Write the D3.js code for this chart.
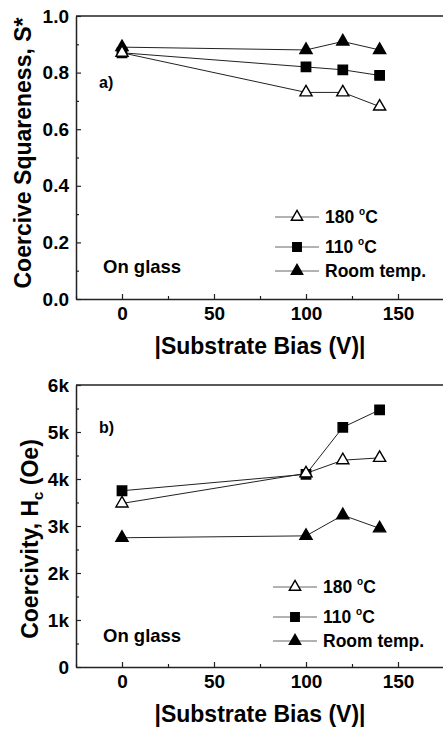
<!DOCTYPE html>
<html>
<head>
<meta charset="utf-8">
<script src="https://cdn.jsdelivr.net/npm/d3@7"></script>
<style>
  html, body { margin: 0; padding: 0; background: #fff; }
  svg { display: block; }
  text { font-family: "Liberation Sans", Arial, Helvetica, sans-serif; font-weight: bold; fill: #000; }
</style>
</head>
<body>
<svg id="chart" width="443" height="729"></svg>
<script>
// ---------- data ----------
const biasValues = [0, 100, 120, 140];
const seriesNames = ["180", "110", "Room temp."];

const squareness180 = [0.87, 0.73, 0.73, 0.68];
const squareness110 = [0.87, 0.82, 0.81, 0.79];
const squarenessRoom = [0.89, 0.88, 0.91, 0.88];

const coercivity180 = [3480, 4120, 4400, 4450];
const coercivity110 = [3750, 4100, 5100, 5470];
const coercivityRoom = [2750, 2790, 3230, 2950];

const xTicks = [0, 50, 100, 150];
const xMinorTicks = [-25, 25, 75, 125, 175];
const squarenessTicks = [0, 0.2, 0.4, 0.6, 0.8, 1.0];
const squarenessTickLabels = ["0.0", "0.2", "0.4", "0.6", "0.8", "1.0"];
const squarenessMinor = [0.1, 0.3, 0.5, 0.7, 0.9];
const coercivityTicks = [0, 1000, 2000, 3000, 4000, 5000, 6000];
const coercivityTickLabels = ["0", "1k", "2k", "3k", "4k", "5k", "6k"];
const coercivityMinor = [500, 1500, 2500, 3500, 4500, 5500];

// ---------- layout ----------
const svg = d3.select("#chart");
const left = 76, right = 444;
const x = d3.scaleLinear().domain([-25, 175]).range([left, right]);

const markerStyles = [
  { type: d3.symbolTriangle, size: 64, fill: "#fff" },   // 180 C open triangle
  { type: d3.symbolSquare, size: 88, fill: "#000" },     // 110 C filled square
  { type: d3.symbolTriangle, size: 64, fill: "#000" }    // Room temp filled triangle
];

function drawPanel(p) {
  const y = d3.scaleLinear().domain(p.domain).range([p.bottom, p.top]);
  const g = svg.append("g");

  // top border
  g.append("line").attr("x1", left).attr("x2", right)
    .attr("y1", p.top).attr("y2", p.top)
    .attr("stroke", "#222").attr("stroke-width", 1.5);
  g.append("line").attr("x1", right).attr("x2", right)
    .attr("y1", p.top).attr("y2", p.bottom)
    .attr("stroke", "#222").attr("stroke-width", 1.5);

  // y axis
  const yAxis = d3.axisLeft(y).tickValues(p.ticks)
    .tickFormat((d, i) => p.tickLabels[i])
    .tickSizeInner(-5).tickSizeOuter(0).tickPadding(7);
  const ya = g.append("g").attr("transform", `translate(${left},0)`).call(yAxis);
  const yMinor = d3.axisLeft(y).tickValues(p.minor).tickFormat("")
    .tickSizeInner(-3).tickSizeOuter(0);
  const ym = g.append("g").attr("transform", `translate(${left},0)`).call(yMinor);
  ym.select(".domain").remove();

  // x axis
  const xAxis = d3.axisBottom(x).tickValues(xTicks).tickFormat(d3.format("d"))
    .tickSizeInner(-5).tickSizeOuter(0).tickPadding(8);
  const xa = g.append("g").attr("transform", `translate(0,${p.bottom})`).call(xAxis);
  const xMinor = d3.axisBottom(x).tickValues(xMinorTicks).tickFormat("")
    .tickSizeInner(-3).tickSizeOuter(0);
  const xm = g.append("g").attr("transform", `translate(0,${p.bottom})`).call(xMinor);
  xm.select(".domain").remove();

  [ya, xa, ym, xm].forEach(a => {
    a.select(".domain").attr("stroke", "#222").attr("stroke-width", 1.5);
    a.selectAll(".tick line").attr("stroke", "#222").attr("stroke-width", 1.2);
  });
  [ya, xa].forEach(a => {
    a.selectAll(".tick text")
      .attr("font-family", '"Liberation Sans", Arial, sans-serif')
      .attr("font-weight", "bold").attr("font-size", 19).attr("fill", "#000");
  });

  // series: draw room temp first, then 110, then 180 on top
  const order = [2, 1, 0];
  const line = d3.line().x((d, i) => x(biasValues[i])).y(d => y(d));
  order.forEach(si => {
    const vals = p.series[si];
    g.append("path").datum(vals).attr("d", line)
      .attr("fill", "none").attr("stroke", "#222").attr("stroke-width", 1);
  });
  order.forEach(si => {
    const vals = p.series[si];
    const ms = markerStyles[si];
    g.selectAll(null).data(vals).enter().append("path")
      .attr("d", d3.symbol(ms.type, ms.size))
      .attr("transform", (d, i) => `translate(${x(biasValues[i])},${y(d)})`)
      .attr("fill", ms.fill).attr("stroke", "#000").attr("stroke-width", 1.4);
  });

  // legend
  p.legendY.forEach((ly, i) => {
    g.append("line").attr("x1", p.legendX0).attr("x2", p.legendX0 + 44)
      .attr("y1", ly).attr("y2", ly).attr("stroke", "#666").attr("stroke-width", 1);
    const ms = markerStyles[i];
    g.append("path").attr("d", d3.symbol(ms.type, i === 1 ? 72 : 56))
      .attr("transform", `translate(${p.legendX0 + 22},${ly})`)
      .attr("fill", ms.fill).attr("stroke", "#000").attr("stroke-width", 1.4);
    const t = g.append("text").attr("x", p.legendX0 + 50).attr("y", ly + 6)
      .attr("font-size", 17.5);
    if (i < 2) {
      t.append("tspan").text(seriesNames[i] + " ");
      t.append("tspan").attr("font-size", 10).attr("dy", -8).text("o");
      t.append("tspan").attr("dy", 8).text("C");
    } else {
      t.text(seriesNames[i]);
    }
  });

  // annotations
  g.append("text").attr("x", 103).attr("y", p.glassY).attr("font-size", 18.5).text("On glass");
  g.append("text").attr("x", 99).attr("y", p.labelY).attr("font-size", 16).text(p.label);

  // x title
  g.append("text").attr("x", 260).attr("y", p.bottom + 55)
    .attr("text-anchor", "middle").attr("font-size", 23).text("|Substrate Bias (V)|");

  // y title
  const yt = g.append("text")
    .attr("transform", `translate(${p.yTitleX},${p.yTitleCenter}) rotate(-90)`)
    .attr("text-anchor", "middle").attr("font-size", 23);
  p.yTitle(yt);
}

drawPanel({
  top: 16, bottom: 299, domain: [0, 1.0],
  ticks: squarenessTicks, tickLabels: squarenessTickLabels, minor: squarenessMinor,
  series: [squareness180, squareness110, squarenessRoom],
  legendX0: 275, legendY: [217, 247, 271],
  glassY: 273, label: "a)", labelY: 88,
  yTitleX: 31, yTitleCenter: 153,
  yTitle: t => t.text("Coercive Squareness, S*")
});

drawPanel({
  top: 385, bottom: 667, domain: [0, 6000],
  ticks: coercivityTicks, tickLabels: coercivityTickLabels, minor: coercivityMinor,
  series: [coercivity180, coercivity110, coercivityRoom],
  legendX0: 273, legendY: [587, 617, 641],
  glassY: 642, label: "b)", labelY: 433,
  yTitleX: 38, yTitleCenter: 539,
  yTitle: t => {
    t.append("tspan").text("Coercivity, H");
    t.append("tspan").attr("font-size", 15).attr("dy", 5).text("c");
    t.append("tspan").attr("dy", -5).text(" (Oe)");
  }
});
</script>
</body>
</html>
